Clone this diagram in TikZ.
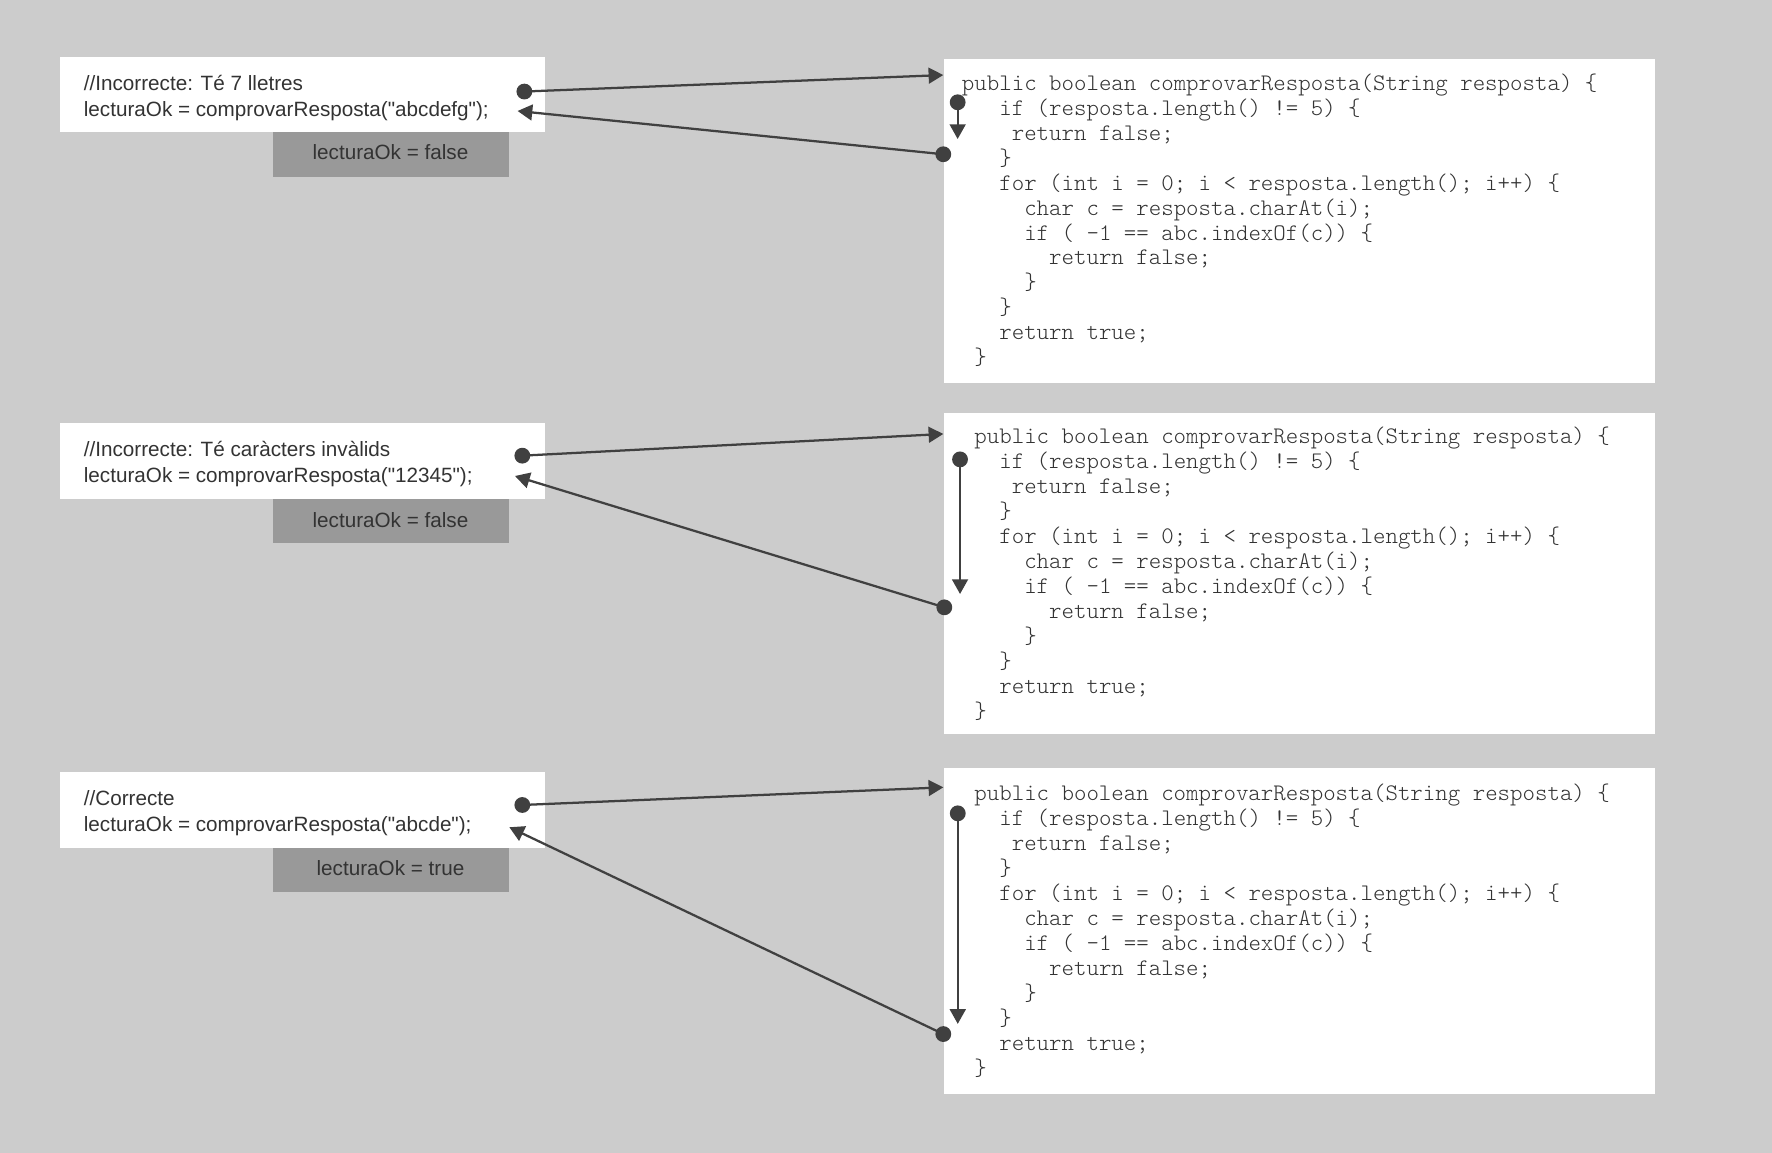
\documentclass[tikz,border=0pt]{standalone}
\usepackage{fontspec}
\setmainfont{Liberation Sans}
\newfontfamily\codefont{lmmonolt10-regular.otf}
\usetikzlibrary{arrows.meta}
\definecolor{bg}{HTML}{CCCCCC}
\definecolor{lbl}{HTML}{999999}
\definecolor{ink}{HTML}{333333}
\definecolor{codeink}{HTML}{333333}
\definecolor{wire}{HTML}{404040}
\newcommand\codeind[1]{\hspace*{#1\fontcharwd\font120 }}
\newcommand\qq{\textquotedbl}
\newcommand\codebody[1]{\strut\codeind{#1}public boolean comprovarResposta(String resposta) \{\\
\codeind{3}if (resposta.length() != 5) \{\\
\codeind{4}return false;\\
\codeind{3}\}\\
\codeind{3}for (int i = 0; i < resposta.length(); i++) \{\\
\codeind{5}char c = resposta.charAt(i);\\
\codeind{5}if ( -1 == abc.indexOf(c)) \{\\
\codeind{7}return false;\\
\codeind{5}\}\\
\codeind{3}\}\\
\codeind{3}return true;\\
\codeind{1}\}}
\begin{document}
\begin{tikzpicture}[x=1pt,y=-1pt,
  callbox/.style={fill=white, draw=none, inner sep=0, anchor=north west, minimum width=429pt, minimum height=67pt},
  resbox/.style={fill=lbl, draw=none, inner sep=0, anchor=north west, minimum width=209pt, minimum height=39pt},
  codebox/.style={fill=white, draw=none, inner sep=0, anchor=north west, minimum width=629pt},
  calltext/.style={font=\fontsize{18.3}{22.7}\selectfont, text=ink, align=left, inner sep=0, anchor=north west},
  restext/.style={font=\fontsize{18.3}{22.7}\selectfont, text=ink, inner sep=0, anchor=base},
  codetext/.style={font=\codefont\fontsize{21}{22.1}\selectfont, text=codeink, align=left, inner sep=0, anchor=north west},
  flow/.style={draw=wire, line width=2pt, -{Triangle[length=13pt,width=14pt]}},
  dot/.style={fill=wire}
]
\fill[bg] (0,0) rectangle (1568,1020);
\useasboundingbox (0,0) rectangle (1568,1020);

% ---------- left call boxes ----------
\node[callbox] (call1) at (53,50) {};
\node[callbox] (call2) at (53,374) {};
\node[callbox] (call3) at (53,683) {};
\node[resbox] (res1) at (241,117) {};
\node[resbox] (res2) at (241,441) {};
\node[resbox] (res3) at (241,750) {};

\node[calltext] (call1t) at (74,64.1) {\strut//Incorrecte: Té 7 lletres\\lecturaOk = comprovarResposta(\qq abcdefg\qq);};
\node[calltext] (call2t) at (74,388.1) {\strut//Incorrecte: Té caràcters invàlids\\lecturaOk = comprovarResposta(\qq 12345\qq);};
\node[calltext] (call3t) at (74,697.1) {\strut//Correcte\\lecturaOk = comprovarResposta(\qq abcde\qq);};

\node[restext] (res1t) at (345.5,141) {lecturaOk = false};
\node[restext] (res2t) at (345.5,467) {lecturaOk = false};
\node[restext] (res3t) at (345.5,775) {lecturaOk = true};

% ---------- code boxes ----------
\node[codebox, minimum height=287pt] (code1) at (835,52) {};
\node[codebox, minimum height=284pt] (code2) at (835,365) {};
\node[codebox, minimum height=289pt] (code3) at (835,679) {};

\node[codetext] (code1t) at (851,64.1) {\codebody{0}};
\node[codetext] (code2t) at (851,377.1) {\codebody{1}};
\node[codetext] (code3t) at (851,693) {\codebody{1}};

% ---------- connector points ----------
\coordinate (s1a) at (464,81);     \coordinate (t1a) at (834.7,66.4);
\coordinate (s1b) at (834.7,136.5); \coordinate (t1b) at (458,98.2);
\coordinate (s1c) at (847.4,90.5);  \coordinate (t1c) at (847.4,123);

\coordinate (s2a) at (462.2,403.2); \coordinate (t2a) at (834.7,384);
\coordinate (s2b) at (835.6,537.4); \coordinate (t2b) at (455.7,421.2);
\coordinate (s2c) at (849.5,406.5); \coordinate (t2c) at (849.5,525.6);

\coordinate (s3a) at (462.2,712.3); \coordinate (t3a) at (834.7,696.7);
\coordinate (s3b) at (834.7,915);   \coordinate (t3b) at (450.7,732);
\coordinate (s3c) at (847.5,719.7); \coordinate (t3c) at (847.5,906);

\foreach \b in {1,2,3}{
  \foreach \k in {a,b,c}{
    \draw[flow] (s\b\k) -- (t\b\k);
    \fill[dot] (s\b\k) circle (7);
  }
}
\end{tikzpicture}
\end{document}
